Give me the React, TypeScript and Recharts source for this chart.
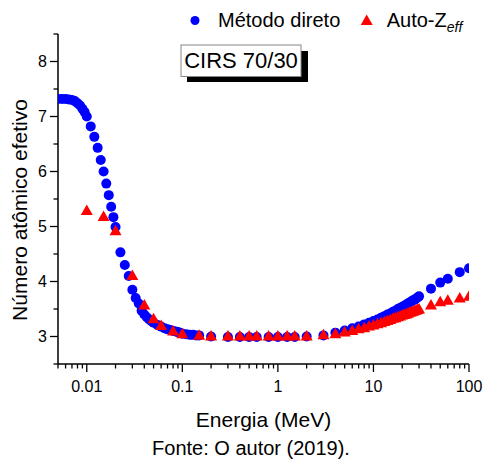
import React from "react";
import { ScatterChart, Scatter, XAxis, YAxis, Legend } from "recharts";

// Método direto (MeV, Zeff)
const directEnergy = [
  0.005, 0.0055, 0.006, 0.0065, 0.007, 0.0075, 0.008, 0.0085, 0.009, 0.0095,
  0.01, 0.011, 0.012, 0.013, 0.014, 0.015, 0.016, 0.017, 0.018, 0.019, 0.02,
  0.0225, 0.025, 0.0275, 0.03, 0.0325, 0.035, 0.0375, 0.04, 0.0425, 0.045,
  0.0475, 0.05, 0.055, 0.06, 0.065, 0.07, 0.075, 0.08, 0.085, 0.09, 0.095, 0.1,
  0.11, 0.12, 0.13, 0.14, 0.15, 0.2, 0.3, 0.4, 0.5, 0.6, 0.8, 1, 1.25, 1.5, 2,
  3, 4, 5, 6, 7, 8, 9, 10, 11, 12, 13, 14, 15, 16, 17, 18, 19, 20, 21, 22, 23,
  24, 25, 26, 27, 28, 29, 30, 40, 50, 60, 80, 100,
];
const directZeff = [
  7.32, 7.32, 7.32, 7.31, 7.3, 7.28, 7.24, 7.2, 7.14, 7.08, 7.0, 6.82, 6.63,
  6.43, 6.21, 6.0, 5.78, 5.57, 5.36, 5.17, 4.99, 4.53, 4.3, 4.1, 3.85, 3.7,
  3.6, 3.47, 3.4, 3.35, 3.31, 3.28, 3.25, 3.21, 3.18, 3.15, 3.13, 3.12, 3.1,
  3.09, 3.08, 3.07, 3.05, 3.04, 3.03, 3.03, 3.02, 3.02, 3.0, 2.99, 2.99, 2.99,
  2.99, 2.99, 2.99, 2.99, 2.99, 3.0, 3.02, 3.07, 3.11, 3.15, 3.18, 3.22, 3.25,
  3.28, 3.31, 3.34, 3.37, 3.4, 3.42, 3.45, 3.47, 3.5, 3.52, 3.54, 3.56, 3.58,
  3.6, 3.62, 3.64, 3.66, 3.67, 3.69, 3.71, 3.73, 3.87, 3.98, 4.05, 4.17, 4.24,
];

// Auto-Zeff (MeV, Zeff)
const autoEnergy = [
  0.01, 0.015, 0.02, 0.03, 0.04, 0.05, 0.06, 0.08, 0.1, 0.15, 0.2, 0.3, 0.4,
  0.5, 0.6, 0.8, 1, 1.25, 1.5, 2, 3, 4, 5, 6, 7, 8, 9, 10, 11, 12, 13, 14, 15,
  16, 17, 18, 19, 20, 21, 22, 23, 24, 25, 26, 27, 28, 29, 30, 40, 50, 60, 80,
  100,
];
const autoZeff = [
  5.3, 5.19, 4.93, 4.12, 3.58, 3.33, 3.21, 3.11, 3.06, 3.03, 3.02, 3.02, 3.02,
  3.02, 3.02, 3.02, 3.02, 3.02, 3.02, 3.02, 3.04, 3.06, 3.09, 3.12, 3.15,
  3.17, 3.2, 3.22, 3.24, 3.26, 3.28, 3.3, 3.32, 3.34, 3.35, 3.37, 3.38, 3.4,
  3.41, 3.42, 3.43, 3.45, 3.46, 3.47, 3.48, 3.49, 3.5, 3.51, 3.58, 3.64, 3.67,
  3.71, 3.74,
];

const xMajorTicks = [0.01, 0.1, 1, 10, 100];
const xMinorTicks = [
  0.005, 0.006, 0.007, 0.008, 0.009, 0.02, 0.03, 0.04, 0.05, 0.06, 0.07, 0.08,
  0.09, 0.2, 0.3, 0.4, 0.5, 0.6, 0.7, 0.8, 0.9, 2, 3, 4, 5, 6, 7, 8, 9, 20, 30,
  40, 50, 60, 70, 80, 90,
];
const yMajorTicks = [3, 4, 5, 6, 7, 8];
const yMinorTicks = [2.5, 3.5, 4.5, 5.5, 6.5, 7.5, 8.5];

const directData = directEnergy.map((e, i) => ({ energy: e, zeff: directZeff[i] }));
const autoData = autoEnergy.map((e, i) => ({ energy: e, zeff: autoZeff[i] }));

const FONT = "'Liberation Sans', Arial, sans-serif";
const MAJOR = 8;
const MINOR = 4.5;

function BottomTick(props: any) {
  const { x, y, payload } = props;
  const major = xMajorTicks.includes(payload.value);
  return (
    <g>
      <line x1={x} x2={x} y1={y} y2={y + (major ? MAJOR : MINOR)} stroke="#000" strokeWidth={1.3} />
      {major && (
        <text x={x} y={y + 28} textAnchor="middle" fontSize={16} fontFamily={FONT} fill="#000">
          {payload.value}
        </text>
      )}
    </g>
  );
}

function TopTick(props: any) {
  const { x, y, payload } = props;
  const major = xMajorTicks.includes(payload.value);
  return <line x1={x} x2={x} y1={y} y2={y + (major ? MAJOR : MINOR)} stroke="#000" strokeWidth={1.3} />;
}

function LeftTick(props: any) {
  const { x, y, payload } = props;
  const major = yMajorTicks.includes(payload.value);
  const len = major ? MAJOR : MINOR;
  return (
    <g>
      <line x1={x - len} x2={x} y1={y} y2={y} stroke="#000" strokeWidth={1.3} />
      {major && (
        <text x={x - len - 3} y={y + 5.5} textAnchor="end" fontSize={16} fontFamily={FONT} fill="#000">
          {payload.value}
        </text>
      )}
    </g>
  );
}

function RightTick(props: any) {
  const { x, y, payload } = props;
  const major = yMajorTicks.includes(payload.value);
  const len = major ? MAJOR : MINOR;
  return <line x1={x - len} x2={x} y1={y} y2={y} stroke="#000" strokeWidth={1.3} />;
}

// markers are clipped to the plot frame like in the original
const BlueDot = (p: any) => (
  <circle cx={p.cx} cy={p.cy} r={5} fill="#0000FF" clipPath="url(#plotFrame)" />
);
const RedTriangle = (p: any) => (
  <path
    d={`M${p.cx},${p.cy - 5.5}L${p.cx + 6},${p.cy + 5}L${p.cx - 6},${p.cy + 5}Z`}
    fill="#FF0000"
    clipPath="url(#plotFrame)"
  />
);

const renderLegend = () => (
  <svg width={484} height={40} style={{ display: "block" }}>
    <circle cx={195} cy={20.5} r={4.5} fill="#0000FF" />
    <text x={218} y={26.7} fontSize={20} fontFamily={FONT} fill="#000">
      Método direto
    </text>
    <path d="M366.7,14.5L372.7,25L360.7,25Z" fill="#FF0000" />
    <text x={386.7} y={26.7} fontSize={20} fontFamily={FONT} fill="#000">
      Auto-Z
      <tspan fontSize={14} fontStyle="italic" dy={5}>
        eff
      </tspan>
    </text>
  </svg>
);

const axisLine = { stroke: "#000", strokeWidth: 1.5 };
const xTicks = [...xMinorTicks, ...xMajorTicks];
const yTicks = [...yMinorTicks, ...yMajorTicks];

export default function App() {
  return (
    <div style={{ position: "absolute", left: 0, top: 0, width: 484, height: 461, background: "#fff" }}>
      <svg width={0} height={0} style={{ position: "absolute" }}>
        <defs>
          <clipPath id="plotFrame" clipPathUnits="userSpaceOnUse">
            <rect x={58} y={34} width={411} height={330} />
          </clipPath>
        </defs>
      </svg>
      <ScatterChart width={484} height={461} margin={{ top: 34, right: 15, bottom: 47, left: 8 }}>
        <XAxis
          dataKey="energy"
          type="number"
          scale="log"
          domain={[0.005, 100]}
          allowDataOverflow
          ticks={xTicks}
          interval={0}
          height={50}
          tickSize={0}
          tickMargin={0}
          tickLine={false}
          axisLine={axisLine}
          tick={<BottomTick />}
        />
        <XAxis
          xAxisId="top"
          orientation="top"
          dataKey="energy"
          type="number"
          scale="log"
          domain={[0.005, 100]}
          allowDataOverflow
          ticks={xTicks}
          interval={0}
          height={0}
          tickSize={0}
          tickMargin={0}
          tickLine={false}
          axisLine={axisLine}
          tick={<TopTick />}
        />
        <YAxis
          dataKey="zeff"
          type="number"
          domain={[2.5, 8.5]}
          allowDataOverflow
          ticks={yTicks}
          interval={0}
          width={50}
          tickSize={0}
          tickMargin={0}
          tickLine={false}
          axisLine={axisLine}
          tick={<LeftTick />}
        />
        <YAxis
          yAxisId="right"
          orientation="right"
          dataKey="zeff"
          type="number"
          domain={[2.5, 8.5]}
          allowDataOverflow
          ticks={yTicks}
          interval={0}
          width={0}
          tickSize={0}
          tickMargin={0}
          tickLine={false}
          axisLine={axisLine}
          tick={<RightTick />}
        />
        <Legend
          verticalAlign="middle"
          layout="horizontal"
          align="center"
          wrapperStyle={{ top: 0, left: 0, width: 484, height: 40 }}
          content={renderLegend}
        />
        <Scatter name="Método direto" data={directData} shape={BlueDot} isAnimationActive={false} />
        <Scatter name="Auto-Zeff" data={autoData} shape={RedTriangle} isAnimationActive={false} />
      </ScatterChart>
      <svg
        width={484}
        height={461}
        style={{ position: "absolute", left: 0, top: 0, pointerEvents: "none" }}
      >
        <rect x={187} y={51} width={121} height={31} fill="#000" />
        <rect x={181} y={45} width={120} height={31.5} fill="#fff" stroke="#888" strokeWidth={1} />
        <text x={241} y={68} textAnchor="middle" fontSize={22} fontFamily={FONT} fill="#000">
          CIRS 70/30
        </text>
        <text
          x={27}
          y={210}
          transform="rotate(-90, 27, 210)"
          textAnchor="middle"
          fontSize={21}
          fontFamily={FONT}
          fill="#000"
        >
          Número atômico efetivo
        </text>
        <text x={263.5} y={427} textAnchor="middle" fontSize={21} fontFamily={FONT} fill="#000">
          Energia (MeV)
        </text>
        <text x={251} y={454.5} textAnchor="middle" fontSize={20} fontFamily={FONT} fill="#000">
          Fonte: O autor (2019).
        </text>
      </svg>
    </div>
  );
}
